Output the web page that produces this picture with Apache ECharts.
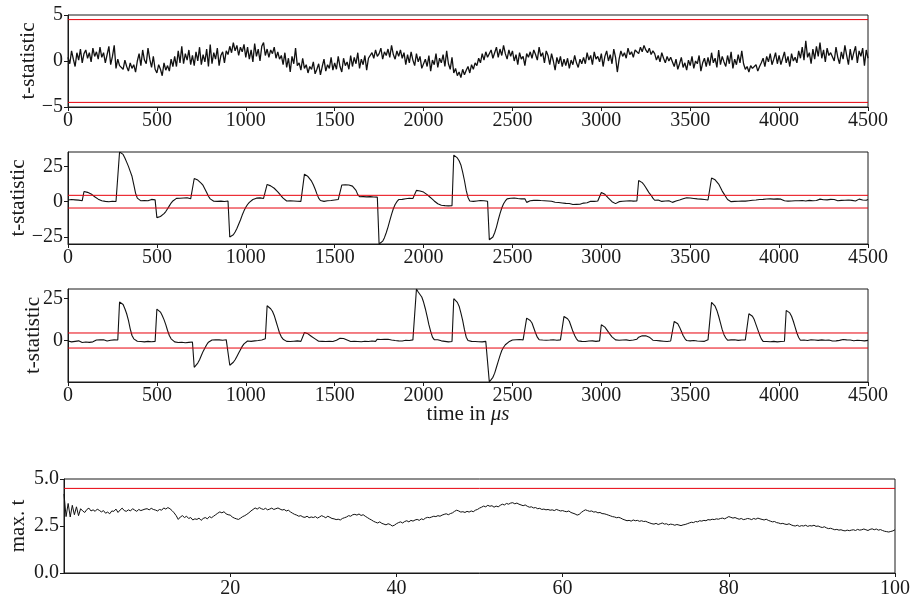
<!DOCTYPE html>
<html>
<head>
<meta charset="utf-8">
<title>t-statistic traces</title>
<script src="https://cdn.jsdelivr.net/npm/echarts@6/dist/echarts.min.js"></script>
<style>
  html, body { margin: 0; padding: 0; background: #fff; }
  #chart { width: 913px; height: 599px; }
</style>
</head>
<body>
<div id="chart"></div>
<script>
// spacing of the samples: traces every 10 us, max-t curve every 0.25
const traceStep = 10
const maxTStep = 0.25
const threshold = 4.5

// tick labels
const yTicks1 = [-5, 0, 5]
const yTicks2 = [-25, 0, 25]
const yTicks3 = [0, 25]
const yTicks4 = [0, 2.5, 5]
const xTicks4 = [20, 40, 60, 80, 100]

// trace 1: no leakage, stays inside the threshold
const trace1 = [
  0.4,-0.3,1.1,0.2,-0.6,0.9,0.1,1.3,-0.2,0.8,
  1.2,0.3,0.9,-0.1,1.4,0.5,1.0,0.2,1.5,0.4,
  0.9,-0.2,0.7,1.6,-0.4,0.5,1.7,-0.8,0.2,-0.5,
  -0.3,-0.9,0.1,-0.6,-1.1,-0.2,-0.8,-0.4,-1.2,0.0,
  0.8,-0.5,1.2,0.1,-0.3,1.4,0.2,-0.7,0.5,-0.9,
  -1.3,-0.4,-0.9,-1.6,-0.2,-1.0,-0.5,-1.1,0.2,-0.6,
  0.5,-0.6,1.1,-0.2,1.6,-0.3,0.8,0.1,1.2,-0.4,
  0.6,-0.5,1.0,0.0,1.5,-0.4,0.7,-0.1,1.3,-0.6,
  1.8,-0.3,0.9,0.2,1.4,-0.5,0.6,1.0,-0.2,1.1,
  0.7,1.6,0.9,2.0,1.1,1.7,0.6,1.5,1.0,1.8,
  0.4,1.5,0.2,1.2,-0.1,1.9,0.5,1.3,0.0,1.6,
  2.0,0.6,1.3,0.4,1.2,0.8,1.5,0.3,1.0,0.2,
  0.6,-0.4,0.9,-0.7,0.3,-1.2,0.5,-0.3,1.4,-0.5,
  -0.2,-1.0,0.3,-0.8,-0.4,-1.3,-0.6,-0.9,-0.1,-1.4,
  -0.9,-0.3,-1.5,-0.6,0.2,-1.1,-0.4,-0.8,0.4,-1.0,
  -0.2,-0.9,0.5,-0.6,-1.2,0.3,-0.5,-0.1,-0.9,0.6,
  -0.6,0.4,-0.3,0.9,-0.8,0.2,-0.4,0.6,-1.0,0.3,
  0.1,0.9,0.3,1.2,0.5,0.8,1.4,0.2,1.0,0.6,
  1.3,0.4,1.7,0.7,0.2,1.1,0.5,1.2,0.3,0.9,
  -0.4,0.7,-0.2,1.0,0.1,-0.5,0.8,-0.1,0.5,-0.8,
  -0.9,0.2,-0.6,0.6,-1.1,0.1,-0.4,0.8,-0.7,0.3,
  -0.2,0.7,-0.6,1.1,-0.3,-0.9,0.4,-1.3,-0.8,-1.6,
  -1.2,-1.8,-0.9,-1.5,-1.0,-0.6,-1.3,-0.4,-0.9,-0.2,
  -0.5,0.3,-0.2,0.8,0.1,1.0,0.4,0.6,1.2,0.3,
  0.9,1.5,0.4,1.3,0.6,1.7,0.8,0.2,1.2,0.5,
  1.1,0.0,0.7,-0.4,0.9,0.2,0.5,-0.5,0.8,0.4,
  1.0,0.3,1.2,0.7,0.1,1.5,0.5,0.9,-0.2,1.1,
  0.6,-0.4,0.8,0.0,-1.0,0.4,-0.3,0.5,-0.6,0.2,
  -0.5,0.3,-0.8,0.1,-0.4,0.6,-0.2,-0.7,0.2,-0.3,
  0.4,-0.3,0.9,0.1,0.6,-0.4,1.0,0.2,0.5,-0.1,
  0.8,-0.6,0.5,1.1,0.0,0.7,-0.3,1.3,0.4,-1.2,
  0.2,1.1,0.5,0.9,0.3,1.4,0.7,1.0,0.4,1.2,
  1.3,0.8,1.5,1.0,1.7,1.2,0.9,1.4,0.7,1.1,
  0.8,0.1,0.6,-0.1,0.9,0.3,-0.2,0.5,0.0,0.4,
  -0.1,-0.6,0.2,-0.9,-0.3,0.4,-0.7,-0.2,-1.0,0.1,
  -0.5,0.5,-0.8,0.0,-0.3,0.6,-1.1,-0.2,0.3,-0.6,
  0.4,-0.5,0.9,-0.2,0.3,-0.7,1.2,-0.4,0.5,-0.1,
  -0.6,0.6,-0.3,1.0,-0.8,0.2,-0.4,0.7,-0.2,1.1,
  -0.3,-0.9,-0.6,-1.2,-0.5,-0.8,-1.0,-0.4,-1.1,-0.6,
  -0.2,0.3,-0.6,0.5,-0.1,0.8,-0.4,0.2,0.9,-0.3,
  0.6,-0.4,0.3,1.0,-0.2,0.5,-0.6,0.8,0.0,0.4,
  -0.2,1.1,0.3,1.5,0.1,2.2,0.4,0.9,-0.3,1.3,
  0.2,1.6,0.5,2.0,0.3,1.2,-0.1,1.4,0.6,0.9,
  1.1,0.0,1.5,0.4,-0.3,1.0,0.2,1.7,0.6,-0.4,
  1.3,0.1,0.9,1.6,-0.2,1.1,0.5,1.4,-0.5,1.2,
  0.3
]

// trace 2
const trace2 = [
  1.2,0.6,1.5,0.8,1.3,0.4,1.1,0.9,0.7,7.2,
  6.9,6.6,6.2,5.5,4.5,3.5,2.6,1.8,1.0,0.6,
  0.8,0.2,0.9,-0.1,0.6,0.3,1.0,0.1,0.7,35.2,
  35.0,33.5,31.0,28.0,25.0,21.5,18.0,12.0,6.0,2.5,
  1.2,0.6,1.4,0.8,1.5,0.7,1.1,1.6,0.9,1.3,
  -11.3,-11.0,-10.5,-9.8,-8.5,-7.0,-5.0,-3.0,-1.0,0.5,
  1.5,2.3,2.8,2.4,3.0,2.6,2.1,2.8,2.3,2.0,
  2.2,16.4,16.0,15.3,14.5,13.0,11.5,9.0,6.5,3.8,
  2.0,0.8,0.3,0.9,0.2,1.0,0.4,0.8,0.1,0.7,
  0.5,-25.0,-24.5,-23.5,-21.5,-19.0,-16.0,-13.0,-9.5,-6.5,
  -4.0,-2.0,-0.5,0.8,1.5,2.0,2.5,2.1,2.7,1.8,
  2.3,1.5,12.2,11.8,11.2,10.5,9.5,8.5,7.0,5.5,
  4.0,2.5,1.2,0.5,0.2,0.7,-0.1,0.5,1.0,0.3,
  0.8,0.2,1.0,19.5,18.8,17.8,16.5,14.5,12.0,9.0,
  5.5,2.5,0.8,-0.3,0.2,-0.3,0.6,0.0,0.8,0.4,
  1.2,0.7,1.5,0.9,11.8,11.4,12.0,11.5,11.8,11.2,
  11.0,10.2,8.0,5.0,3.5,3.0,3.6,2.9,3.4,3.1,
  3.6,2.8,3.3,2.9,3.2,-30.0,-29.5,-28.0,-25.5,-22.0,
  -18.0,-13.5,-9.0,-5.0,-2.0,0.0,1.5,2.0,1.6,2.2,
  2.1,1.5,2.4,1.8,2.2,1.8,8.0,7.8,7.6,7.2,
  6.8,6.0,5.0,4.0,2.8,1.5,0.5,-0.5,-1.5,-2.2,
  -2.5,-2.0,-2.8,-2.2,-3.0,-2.4,-2.8,33.0,32.5,31.0,
  29.0,26.0,21.0,15.0,8.0,3.0,0.5,-0.5,0.2,-0.3,
  0.5,-0.2,0.8,0.1,0.6,1.0,0.3,-27.0,-26.5,-25.0,
  -22.0,-18.0,-13.0,-8.5,-4.5,-1.5,0.5,2.0,2.8,2.4,
  3.2,2.6,2.9,2.2,2.7,2.0,2.5,2.1,-0.5,0.2,
  0.6,-0.3,0.9,0.2,1.0,0.4,0.8,0.0,0.7,0.3,
  0.5,-0.2,0.3,0.0,-0.4,-0.1,-0.6,-0.3,-0.9,-1.0,
  -1.2,-1.5,-1.3,-1.8,-2.0,-2.3,-1.9,-2.5,-1.8,-1.2,
  -1.0,-0.5,-0.8,-0.2,0.3,-0.4,0.2,-0.1,0.5,0.0,
  6.5,6.0,5.2,4.0,2.5,1.2,0.0,-0.8,-1.4,-0.6,
  0.0,-0.5,0.3,-0.2,0.5,0.1,0.6,-0.1,0.4,0.2,
  0.5,15.0,14.5,13.5,12.0,10.0,8.0,6.0,4.5,2.5,
  1.0,0.4,1.2,0.6,0.2,1.0,0.5,1.3,0.7,0.9,
  -0.5,0.0,0.5,0.9,1.2,1.6,2.0,2.4,2.8,3.2,
  2.6,3.0,2.3,2.7,2.0,2.4,1.8,2.2,1.5,1.9,
  1.2,0.8,16.8,16.3,15.5,14.5,12.5,10.0,7.5,5.5,
  3.5,1.5,0.5,0.0,0.6,0.2,0.8,0.3,1.0,0.5,
  0.9,0.4,1.2,0.7,1.5,1.0,1.8,1.2,2.0,1.5,
  2.2,1.6,2.5,1.9,2.4,2.0,2.6,1.8,2.3,2.0,
  2.4,1.8,2.1,0.6,1.2,0.4,1.0,0.5,1.3,0.7,
  1.1,0.6,1.4,0.8,1.2,0.5,1.6,0.9,1.3,0.7,
  1.5,0.8,1.2,1.8,0.9,1.4,0.6,1.3,1.0,1.6,
  0.8,1.5,1.1,0.6,1.4,0.9,1.7,1.0,0.5,1.2,
  1.6,0.9,1.3,0.5,1.1,1.8,0.7,1.2,0.4,1.0,
  1.5
]

// trace 3
const trace3 = [
  -0.3,0.4,-0.8,0.2,-0.5,-1.0,-0.2,-0.7,-1.2,-0.4,
  -0.9,-0.6,-1.1,-0.5,-0.8,-0.2,0.3,-0.1,0.4,0.0,
  0.5,0.1,-0.3,0.6,0.2,-0.2,0.4,0.0,0.3,23.0,
  22.5,21.5,19.0,16.0,12.0,7.0,3.0,1.0,0.2,-0.4,
  0.2,-0.6,0.1,-0.8,-0.2,-0.5,0.0,-0.7,-0.3,-0.5,
  18.8,18.2,17.0,15.0,12.5,9.5,6.0,3.0,1.0,0.0,
  -0.8,-0.5,-1.2,-0.7,-1.0,-0.4,-1.3,-0.8,-1.1,-0.6,
  -0.9,-16.0,-15.0,-13.5,-11.5,-9.0,-6.5,-4.5,-2.5,-1.0,
  -0.2,0.3,-0.4,0.5,-0.2,0.4,-0.6,0.2,-0.3,0.5,
  -0.2,-14.8,-14.2,-13.0,-11.5,-9.5,-7.5,-5.5,-3.5,-2.0,
  -1.0,-0.3,0.2,-0.5,0.4,-0.2,0.6,0.0,0.8,0.3,
  0.5,1.0,20.8,20.2,19.0,17.5,15.0,11.5,8.0,4.5,
  2.2,0.8,0.0,-0.5,0.3,-0.6,0.1,-0.4,0.4,-0.2,
  0.3,-0.5,0.2,4.8,4.5,4.0,3.2,2.4,1.6,1.0,
  0.3,-0.4,-0.9,-0.5,-1.1,-0.6,-0.9,-0.4,-1.0,-0.6,
  -0.3,0.2,0.8,1.4,1.6,1.2,0.8,0.3,-0.3,-0.6,
  -0.9,-0.5,-1.0,-0.6,-1.2,-0.7,-0.9,-0.4,-1.0,-0.6,
  -0.8,-0.3,-0.7,-0.5,0.8,1.0,0.6,1.1,0.7,1.0,
  0.8,0.5,0.3,0.6,0.0,0.4,-0.2,0.3,-0.3,0.1,
  0.2,-0.5,0.0,-0.3,0.4,-0.2,30.8,29.0,27.5,26.0,
  23.0,19.0,14.5,9.5,5.5,2.0,0.5,-0.3,0.5,-0.6,
  -0.2,0.6,-0.5,0.3,-0.8,-0.2,-0.6,25.0,24.2,22.8,
  20.5,16.5,12.0,6.5,2.0,0.0,-0.8,-0.5,-1.2,-0.6,
  -1.0,-0.7,-1.3,-0.8,-1.1,-0.5,-1.2,-24.8,-24.0,-22.0,
  -19.5,-16.0,-12.5,-9.0,-6.0,-4.0,-2.5,-1.5,-0.8,-0.2,
  0.3,-0.4,0.5,0.0,0.6,-0.2,0.4,0.1,13.4,13.0,
  12.0,10.5,7.5,4.5,2.0,0.5,-0.3,0.3,-0.5,0.2,
  -0.4,0.3,-0.2,0.5,-0.3,0.2,-0.6,0.4,-0.1,14.4,
  14.0,13.0,11.5,8.5,5.5,3.0,1.0,-0.2,0.4,-0.5,
  0.2,-0.6,0.3,-0.3,0.5,-0.2,0.3,-0.5,0.1,-0.2,
  9.4,8.8,8.0,6.5,5.0,3.5,2.2,1.2,0.4,-0.3,
  0.2,-0.5,0.3,-0.2,0.4,-0.6,0.0,-0.3,0.3,-0.1,
  0.8,2.0,2.6,2.8,2.5,2.8,2.3,2.0,1.2,0.2,
  -0.5,0.0,-0.8,-0.2,-1.0,-0.4,0.2,-0.6,0.1,-0.3,
  -0.2,11.4,11.0,10.0,8.0,5.5,3.0,1.2,0.0,-0.5,
  -0.2,-0.8,0.0,-0.6,-0.3,-1.0,-0.4,0.2,-0.5,0.3,
  0.4,-0.2,22.8,22.0,20.5,18.0,14.5,10.5,6.5,3.5,
  1.5,0.2,-0.3,0.4,-0.2,0.5,-0.4,0.1,-0.3,0.3,
  -0.2,0.4,-0.3,16.0,15.5,14.5,12.5,9.5,6.5,3.5,
  1.0,-0.5,-1.0,-0.6,-1.2,-0.7,-1.0,-0.5,-1.1,-0.8,
  -1.3,-0.6,-1.0,-0.4,18.0,17.5,16.5,14.5,11.5,8.0,
  4.5,1.8,0.2,-0.4,0.3,-0.6,0.0,-0.3,0.5,-0.2,
  0.3,-0.5,0.1,-0.3,0.4,-0.1,0.2,-0.4,0.3,0.0,
  -0.3,0.4,-0.2,0.5,0.1,-0.3,0.6,0.0,0.4,-0.2,
  0.3,0.7,-0.1,0.5,0.2,0.8,0.0,0.5,-0.2,0.4,
  0.1
]

// max. t over the number of traces (0 .. 100)
const maxT = [
  4.20,3.00,3.70,2.98,3.60,3.10,3.52,3.05,3.42,3.30,3.22,3.38,3.45,3.30,3.36,3.28,3.40,3.33,3.25,3.32,
  3.18,3.24,3.15,3.30,3.28,3.40,3.22,3.35,3.45,3.32,3.28,3.36,3.30,3.42,3.35,3.28,3.38,3.32,3.36,3.40,
  3.42,3.36,3.44,3.38,3.35,3.30,3.38,3.34,3.46,3.40,3.48,3.42,3.32,3.20,3.05,2.85,2.98,3.05,2.95,3.02,
  2.90,2.95,2.82,2.88,2.85,2.92,2.80,2.90,2.95,2.88,3.00,2.94,3.02,3.10,3.18,3.25,3.20,3.26,3.15,3.10,
  3.08,2.98,2.92,2.88,2.85,2.92,3.00,3.05,3.12,3.20,3.30,3.38,3.46,3.40,3.48,3.42,3.38,3.44,3.36,3.40,
  3.45,3.38,3.42,3.46,3.40,3.35,3.38,3.30,3.34,3.25,3.18,3.12,3.08,3.02,3.05,2.98,2.96,3.02,2.94,2.98,
  2.95,3.00,2.92,2.98,3.05,3.00,2.94,3.02,2.96,2.90,2.88,2.84,2.86,2.82,2.90,2.94,2.98,3.05,3.02,3.10,
  3.12,3.08,3.14,3.06,3.10,3.02,2.95,2.88,2.82,2.75,2.70,2.66,2.72,2.64,2.60,2.56,2.62,2.58,2.50,2.54,
  2.62,2.68,2.72,2.66,2.74,2.78,2.72,2.80,2.76,2.82,2.85,2.80,2.88,2.84,2.92,2.96,2.94,2.98,3.02,3.00,
  3.05,3.02,3.08,3.12,3.15,3.10,3.16,3.20,3.28,3.34,3.30,3.24,3.26,3.22,3.28,3.24,3.30,3.26,3.34,3.38,
  3.45,3.50,3.56,3.52,3.60,3.55,3.58,3.50,3.56,3.52,3.60,3.66,3.62,3.70,3.66,3.72,3.74,3.68,3.72,3.66,
  3.62,3.58,3.62,3.55,3.50,3.52,3.46,3.48,3.42,3.44,3.38,3.40,3.36,3.38,3.34,3.36,3.32,3.38,3.34,3.30,
  3.32,3.28,3.26,3.30,3.22,3.18,3.14,3.08,3.12,3.22,3.30,3.36,3.32,3.28,3.30,3.24,3.26,3.20,3.22,3.16,
  3.15,3.12,3.08,3.04,3.00,2.98,2.94,2.96,2.92,2.86,2.82,2.78,2.80,2.76,2.82,2.78,2.80,2.75,2.78,2.74,
  2.75,2.70,2.66,2.62,2.60,2.64,2.58,2.62,2.66,2.60,2.62,2.56,2.60,2.58,2.54,2.58,2.55,2.52,2.56,2.58,
  2.62,2.66,2.70,2.68,2.74,2.72,2.78,2.76,2.80,2.78,2.84,2.82,2.86,2.84,2.88,2.86,2.90,2.92,2.88,2.94,
  3.00,2.96,2.92,2.95,2.90,2.86,2.90,2.84,2.86,2.90,2.88,2.84,2.90,2.86,2.92,2.88,2.85,2.82,2.86,2.80,
  2.76,2.72,2.74,2.68,2.66,2.62,2.64,2.60,2.58,2.62,2.56,2.52,2.50,2.54,2.48,2.52,2.50,2.54,2.48,2.52,
  2.50,2.54,2.48,2.50,2.45,2.42,2.46,2.40,2.36,2.38,2.34,2.30,2.32,2.28,2.30,2.26,2.24,2.28,2.25,2.28,
  2.30,2.26,2.32,2.28,2.30,2.34,2.30,2.26,2.32,2.35,2.30,2.34,2.28,2.31,2.26,2.22,2.20,2.18,2.21,2.24,
  2.30
]

const font = "'Liberation Serif', 'DejaVu Serif', serif"
const ink = '#1a1a1a'
const red = '#e8000b'
const minus = (v) => (v < 0 ? '\u2212' + Math.abs(v) : String(v))
const toPairs = (vals, step) => vals.map((v, i) => [+(i * step).toFixed(2), v])

const grids = [
  { left: 68, top: 15, width: 800, height: 92 },
  { left: 68, top: 152, width: 800, height: 92 },
  { left: 68, top: 289, width: 800, height: 93 },
  { left: 61, top: 479, width: 834, height: 95 },
]

const axisLine = { show: true, onZero: false, lineStyle: { color: ink, width: 1 } }
const axisTick = { show: true, inside: false, length: 4, lineStyle: { color: ink, width: 1 } }
const labelStyle = { color: ink, fontFamily: font, fontSize: 20 }
const nameStyle = { color: ink, fontFamily: font, fontSize: 21 }

function timeAxis(gridIndex, extra) {
  return Object.assign({
    type: 'value',
    gridIndex,
    min: 0,
    max: 4500,
    interval: 500,
    axisLine,
    axisTick,
    axisLabel: Object.assign({ margin: 4, formatter: (v) => String(v) }, labelStyle),
    splitLine: { show: false },
  }, extra)
}

function tAxis(gridIndex, min, max, ticks, nameGap) {
  return {
    type: 'value',
    gridIndex,
    min,
    max,
    name: 't-statistic',
    nameLocation: 'middle',
    nameGap,
    nameMoveOverlap: false,
    nameTextStyle: nameStyle,
    axisLine,
    axisTick: Object.assign({ customValues: ticks }, axisTick),
    axisLabel: Object.assign({ margin: 5, customValues: ticks, formatter: minus }, labelStyle),
    splitLine: { show: false },
  }
}

function traceSeries(idx, vals, step, width) {
  return {
    type: 'line',
    xAxisIndex: idx,
    yAxisIndex: idx,
    data: toPairs(vals, step),
    showSymbol: false,
    sampling: null,
    z: 3,
    lineStyle: { color: '#111', width },
  }
}

// horizontal threshold line across one panel
function thresholdSeries(idx, level, xMax) {
  return {
    type: 'line',
    xAxisIndex: idx,
    yAxisIndex: idx,
    data: [[0, level], [xMax, level]],
    showSymbol: false,
    silent: true,
    z: 4,
    lineStyle: { color: red, width: 1 },
  }
}

const option = {
  animation: false,
  backgroundColor: '#fff',
  grid: grids.map((g) => Object.assign({ show: true, borderColor: ink, borderWidth: 1 }, g)),
  xAxis: [
    timeAxis(0),
    timeAxis(1),
    timeAxis(2, {
      name: '{a|time in }{b|\u03bcs}',
      nameLocation: 'middle',
      nameGap: 22,
      nameMoveOverlap: false,
      nameTextStyle: {
        rich: {
          a: nameStyle,
          b: Object.assign({ fontStyle: 'italic' }, nameStyle),
        },
      },
    }),
    {
      type: 'value',
      gridIndex: 3,
      min: 0,
      max: 100,
      axisLine,
      axisTick: Object.assign({ customValues: xTicks4 }, axisTick),
      axisLabel: Object.assign({ margin: 6, customValues: xTicks4 }, labelStyle),
      splitLine: { show: false },
    },
  ],
  yAxis: [
    tAxis(0, -5, 5, yTicks1, 29),
    tAxis(1, -30, 35.2, yTicks2, 39),
    tAxis(2, -24.8, 30.8, yTicks3, 24),
    {
      type: 'value',
      gridIndex: 3,
      min: 0,
      max: 5,
      name: 'max. t',
      nameLocation: 'middle',
      nameGap: 35,
      nameMoveOverlap: false,
      nameTextStyle: nameStyle,
      axisLine,
      axisTick: Object.assign({ customValues: yTicks4 }, axisTick),
      axisLabel: Object.assign({ margin: 5, customValues: yTicks4, formatter: (v) => v.toFixed(1) }, labelStyle),
      splitLine: { show: false },
    },
  ],
  series: [
    traceSeries(0, trace1, traceStep, 1.3),
    traceSeries(1, trace2, traceStep, 1.1),
    traceSeries(2, trace3, traceStep, 1.1),
    traceSeries(3, maxT, maxTStep, 1),
    thresholdSeries(0, threshold, 4500),
    thresholdSeries(0, -threshold, 4500),
    thresholdSeries(1, threshold, 4500),
    thresholdSeries(1, -threshold, 4500),
    thresholdSeries(2, threshold, 4500),
    thresholdSeries(2, -threshold, 4500),
    thresholdSeries(3, threshold, 100),
  ],
}

const myChart = echarts.init(document.getElementById('chart'), null, { renderer: 'canvas' })
myChart.setOption(option)
</script>
</body>
</html>
